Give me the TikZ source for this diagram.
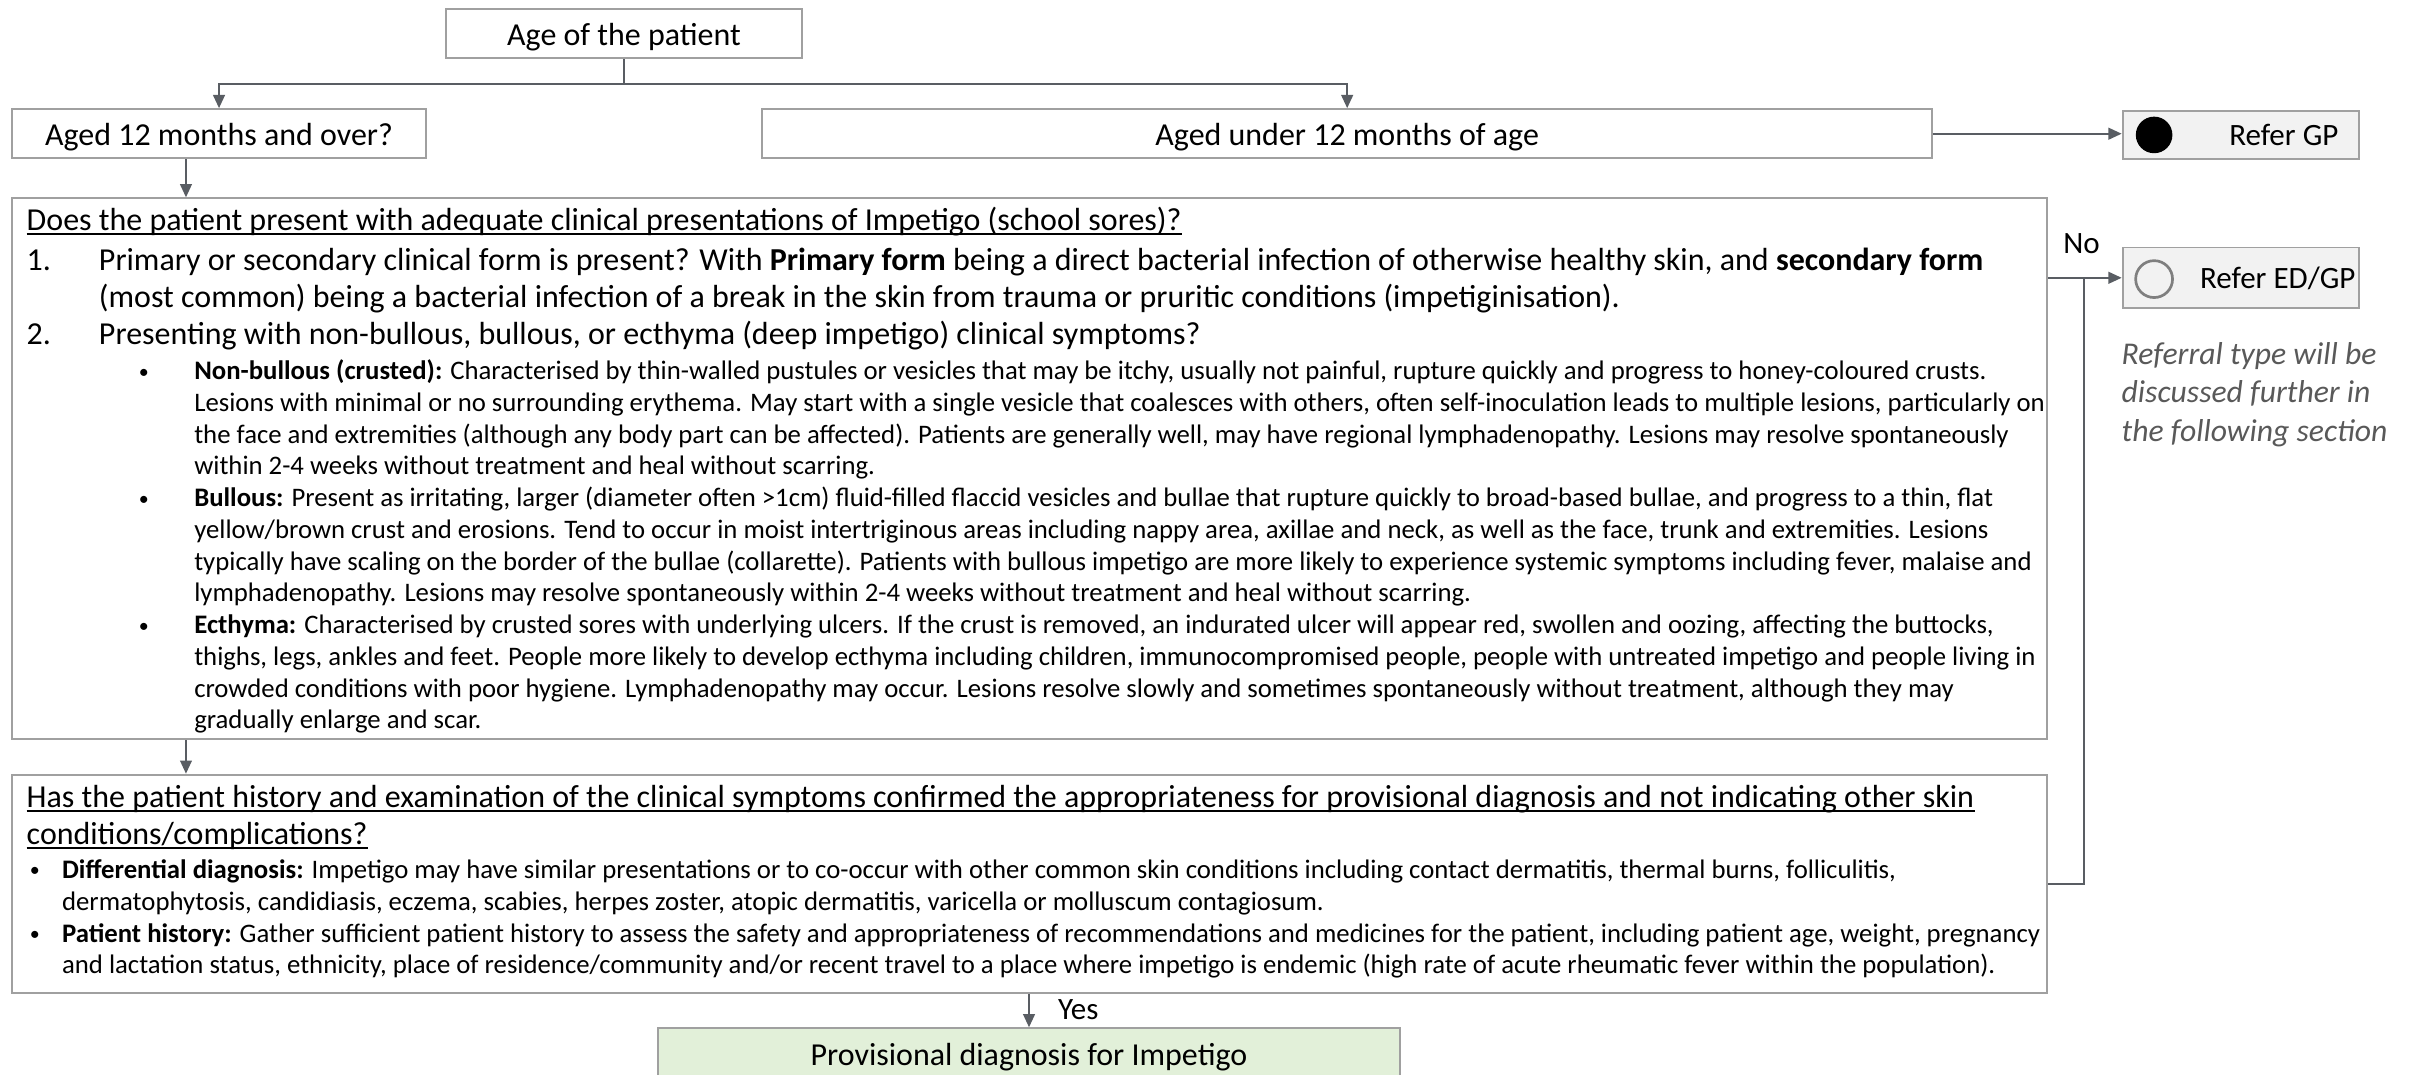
\documentclass[tikz,border=0pt]{standalone}
\usepackage{fontspec}
\setmainfont{Carlito}
\usetikzlibrary{arrows.meta}
\definecolor{conncol}{RGB}{89,93,99}
\definecolor{boxcol}{RGB}{160,160,160}
\definecolor{refcol}{RGB}{242,242,242}
\definecolor{provcol}{RGB}{226,240,217}
\definecolor{notecol}{RGB}{89,89,89}
\definecolor{ringcol}{RGB}{127,127,127}
\newsavebox\ulbox
\newcommand\undl[1]{\sbox\ulbox{#1}\rlap{\rule[-1.4pt]{\wd\ulbox}{0.55pt}}\usebox\ulbox}
\newcommand\smbul{{\fontsize{6.5}{6.5}\selectfont\raisebox{0.5pt}{\textbullet}}}
\begin{document}
\begin{tikzpicture}[x=0.5pt,y=-0.5pt,
  bigf/.style={font=\fontsize{10.4}{12}\selectfont},
  reff/.style={font=\fontsize{10.1}{12}\selectfont},
  smallf/.style={font=\fontsize{8.7}{10}\selectfont},
  notef/.style={font=\fontsize{10.3}{12}\selectfont\itshape,text=notecol},
  box/.style={draw=boxcol,line width=0.6pt,fill=white,inner sep=0pt,bigf,text height=7.8pt,text depth=0pt},
  refbox/.style={draw=boxcol,line width=0.6pt,fill=refcol,inner sep=0pt},
  tl/.style={anchor=base west,inner sep=0pt},
  conn/.style={draw=conncol,line width=0.65pt},
  arr/.style={conn,-{Triangle[length=4.3pt,width=3.8pt]}}
]
\useasboundingbox (0,0) rectangle (1568,699);
\clip (0,0) rectangle (1568,699);

% boxes
\node[box,minimum width=116pt,minimum height=16pt,text height=7.4pt] (age) at (406,22) {Age of the patient};
\node[box,minimum width=134.5pt,minimum height=16pt] (a12) at (142.5,87) {Aged 12 months and over?};
\node[box,minimum width=380.5pt,minimum height=16pt] (u12) at (876.5,87) {Aged under 12 months of age};
\node[refbox,minimum width=77pt,minimum height=15.75pt] (gp) at (1458,87.75) {};
\node[refbox,minimum width=77pt,minimum height=19.75pt] (ed) at (1458,180.75) {};
\node[box,minimum width=662pt,minimum height=176pt] (m1) at (670,305) {};
\node[box,minimum width=662pt,minimum height=71pt] (b2) at (670,575) {};
\node[box,fill=provcol,minimum width=241.5pt,minimum height=17pt,text height=7pt] (prov) at (669.5,686) {Provisional diagnosis for Impetigo};

% referral markers
\node[circle,fill=black,inner sep=0pt,minimum size=11.9pt] (gpdot) at (1401.5,87.8) {};
\node[tl,reff] (gptxt) at (1450,94.8) {Refer GP};
\node[circle,draw=ringcol,line width=0.87pt,inner sep=0pt,minimum size=12pt] (edring) at (1401.5,181.6) {};
\node[tl,reff] (edtxt) at (1431,187.6) {Refer ED/GP};
\node[tl,notef] (n1) at (1380,237) {Referral type will be};
\node[tl,notef] (n2) at (1380,262) {discussed further in};
\node[tl,notef] (n3) at (1380,287) {the following section};

% box 1 text
\node[tl,bigf] (h1) at (17,150) {\undl{Does the patient present with adequate clinical presentations of Impetigo (school sores)?}};
\node[tl,bigf] (i1n) at (17,176) {1.};
\node[tl,bigf] (i1a) at (64,176) {Primary or secondary clinical form is present? With \textbf{Primary form} being a direct bacterial infection of otherwise healthy skin, and \textbf{secondary form}};
\node[tl,bigf] (i1b) at (64,199.8) {(most common) being a bacterial infection of a break in the skin from trauma or pruritic conditions (impetiginisation).};
\node[tl,bigf] (i2n) at (17,224) {2.};
\node[tl,bigf] (i2a) at (64,224) {Presenting with non-bullous, bullous, or ecthyma (deep impetigo) clinical symptoms?};

\node[tl,smallf] (bu1) at (90,247) {\smbul};
\node[tl,smallf] (nb1) at (126,247) {\textbf{Non-bullous (crusted):} Characterised by thin-walled pustules or vesicles that may be itchy, usually not painful, rupture quickly and progress to honey-coloured crusts.};
\node[tl,smallf] (nb2) at (126,267.65) {Lesions with minimal or no surrounding erythema. May start with a single vesicle that coalesces with others, often self-inoculation leads to multiple lesions, particularly on};
\node[tl,smallf] (nb3) at (126,288.3) {the face and extremities (although any body part can be affected). Patients are generally well, may have regional lymphadenopathy. Lesions may resolve spontaneously};
\node[tl,smallf] (nb4) at (126,308.95) {within 2-4 weeks without treatment and heal without scarring.};

\node[tl,smallf] (bu2) at (90,329.6) {\smbul};
\node[tl,smallf] (bl1) at (126,329.6) {\textbf{Bullous:} Present as irritating, larger (diameter often >1cm) fluid-filled flaccid vesicles and bullae that rupture quickly to broad-based bullae, and progress to a thin, flat};
\node[tl,smallf] (bl2) at (126,350.25) {yellow/brown crust and erosions. Tend to occur in moist intertriginous areas including nappy area, axillae and neck, as well as the face, trunk and extremities. Lesions};
\node[tl,smallf] (bl3) at (126,370.9) {typically have scaling on the border of the bullae (collarette). Patients with bullous impetigo are more likely to experience systemic symptoms including fever, malaise and};
\node[tl,smallf] (bl4) at (126,391.55) {lymphadenopathy. Lesions may resolve spontaneously within 2-4 weeks without treatment and heal without scarring.};

\node[tl,smallf] (bu3) at (90,412.2) {\smbul};
\node[tl,smallf] (ec1) at (126,412.2) {\textbf{Ecthyma:} Characterised by crusted sores with underlying ulcers. If the crust is removed, an indurated ulcer will appear red, swollen and oozing, affecting the buttocks,};
\node[tl,smallf] (ec2) at (126,432.85) {thighs, legs, ankles and feet. People more likely to develop ecthyma including children, immunocompromised people, people with untreated impetigo and people living in};
\node[tl,smallf] (ec3) at (126,453.5) {crowded conditions with poor hygiene. Lymphadenopathy may occur. Lesions resolve slowly and sometimes spontaneously without treatment, although they may};
\node[tl,smallf] (ec4) at (126,474.15) {gradually enlarge and scar.};

% box 2 text
\node[tl,bigf] (h2a) at (17,525.5) {\undl{Has the patient history and examination of the clinical symptoms confirmed the appropriateness for provisional diagnosis and not indicating other skin}};
\node[tl,bigf] (h2b) at (17,549.4) {\undl{conditions/complications?}};
\node[tl,smallf] (bu4) at (19,571.5) {\smbul};
\node[tl,smallf] (dd1) at (40,571.5) {\textbf{Differential diagnosis:} Impetigo may have similar presentations or to co-occur with other common skin conditions including contact dermatitis, thermal burns, folliculitis,};
\node[tl,smallf] (dd2) at (40,592.2) {dermatophytosis, candidiasis, eczema, scabies, herpes zoster, atopic dermatitis, varicella or molluscum contagiosum.};
\node[tl,smallf] (bu5) at (19,612.9) {\smbul};
\node[tl,smallf] (ph1) at (40,612.9) {\textbf{Patient history:} Gather sufficient patient history to assess the safety and appropriateness of recommendations and medicines for the patient, including patient age, weight, pregnancy};
\node[tl,smallf] (ph2) at (40,633.6) {and lactation status, ethnicity, place of residence/community and/or recent travel to a place where impetigo is endemic (high rate of acute rheumatic fever within the population).};

% connector labels
\node[tl,reff] (nolab) at (1342,165) {No};
\node[tl,reff] (yeslab) at (688,663) {Yes};

% connectors
\coordinate (xa) at (121,0);
\coordinate (jn) at (1356,180.75);
\draw[arr] (age.south) -- ++(0,16) -| (a12.north);
\draw[arr] (age.south) -- ++(0,16) -| (u12.north);
\draw[arr] (u12.east) -- (u12.east -| gp.west);
\draw[arr] (a12.south -| xa) -- (m1.north -| xa);
\draw[arr] (m1.south -| xa) -- (b2.north -| xa);
\draw[arr] (b2.south -| prov.north) -- (prov.north);
\draw[arr] (m1.east |- ed.west) -- (ed.west);
\draw[conn] (b2.east) -| (jn);
\end{tikzpicture}
\end{document}
